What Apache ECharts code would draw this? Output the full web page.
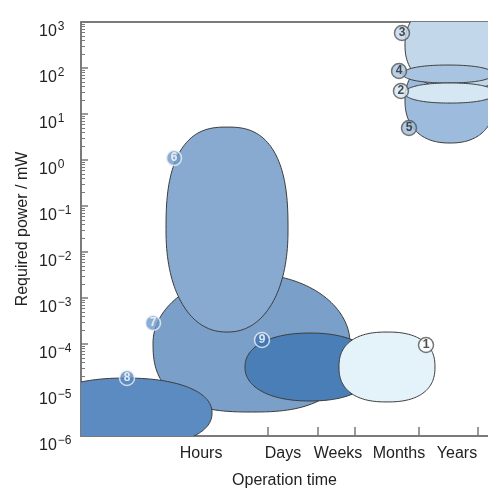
<!DOCTYPE html>
<html><head><meta charset="utf-8">
<script src="https://cdn.jsdelivr.net/npm/echarts@6/dist/echarts.min.js"></script>
<style>html,body{margin:0;padding:0;background:#fff}#c{width:488px;height:489px}</style>
</head><body><div id="c"></div>
<script>
// ---- data (time in hours, power in mW) ----
const shapeIds   = ['1', '2', '3', '4', '5', '6', '7', '8', '9'];
const timeMin    = [392, 5150, 5150, 4760, 5150, 0.458, 0.276, 0.00322, 10];
const timeMax    = [16600, 172600, 377000, 159600, 172600, 53.6, 602, 2.76, 1596];
const powerMin   = [5.5e-6, 17.3, 33.3, 47.2, 2.34, 1.82e-4, 3.32e-6, 5.5e-7, 5.77e-6];
const powerMax   = [1.82e-4, 47.2, 3006, 116, 173, 5.2, 3.32e-3, 1.82e-5, 1.73e-4];
const markerTime  = [11700, 4400, 4580, 4080, 6020, 0.626, 0.276, 0.1, 19.4];
const markerPower = [9.5e-5, 31.6, 577, 86, 4.97, 1.10, 2.86e-4, 1.82e-5, 1.22e-4];

const timeTickHours  = [1, 24, 168, 730, 8760, 87600];
const timeLabels     = ['Hours', 'Days', 'Weeks', 'Months', 'Years'];
const timeLabelHours = [1.8, 44, 377, 4070, 39200];
const powerDecades   = [-6, -5, -4, -3, -2, -1, 0, 1, 2, 3];
const axisTimeRange  = [0.0166, 131500];
const axisPowerRange = [1e-6, 1e3];

// ---- styles ----
const shapeStyle = {
  '1': {fill: '#e4f2f9', nTop: 2.4, nBot: 2.4, mFill: '#ffffff', mText: '#222', mBorder: '#555'},
  '2': {fill: '#d5e7f3', nTop: 2.2, nBot: 2.2, mFill: '#d5e7f3', mText: '#222', mBorder: '#555'},
  '3': {fill: '#c3d7eb', nTop: 2.3, nBot: 2.3, mFill: '#c3d7eb', mText: '#222', mBorder: '#555'},
  '4': {fill: '#a9c4e0', nTop: 2.2, nBot: 2.2, mFill: '#a9c4e0', mText: '#222', mBorder: '#555'},
  '5': {fill: '#9dbbdc', nTop: 2.2, nBot: 2.3, mFill: '#9dbbdc', mText: '#222', mBorder: '#555'},
  '6': {fill: '#88aad0', nTop: 2.6, nBot: 2.2, mFill: '#6f98c8', mText: '#fff', mBorder: '#eef3f8'},
  '7': {fill: '#7a9fc9', nTop: 2.0, nBot: 2.6, mFill: '#6f98c8', mText: '#fff', mBorder: '#eef3f8'},
  '8': {fill: '#5b8bc0', nTop: 2.2, nBot: 2.2, mFill: '#5b8bc0', mText: '#fff', mBorder: '#eef3f8'},
  '9': {fill: '#4a7eb6', nTop: 2.2, nBot: 2.2, mFill: '#4277b1', mText: '#fff', mBorder: '#eef3f8'}
};
const drawOrder = ['7', '6', '8', '9', '1', '5', '3', '4', '2'];
const FONT = 'Liberation Sans, Arial, sans-serif';
const AX = '#7a7a7a';

const L = Math.log10;
const xMin = L(axisTimeRange[0]), xMax = L(axisTimeRange[1]);
const yMin = L(axisPowerRange[0]), yMax = L(axisPowerRange[1]);

const minorVals = [];
for (let d = yMin; d < yMax; d++) for (let k = 2; k <= 9; k++) minorVals.push(d + L(k));

const shapeData = drawOrder.map(id => {
  const i = shapeIds.indexOf(id);
  return [L(timeMin[i]), L(timeMax[i]), L(powerMin[i]), L(powerMax[i]), i];
});

function renderShape(params, api) {
  const x0 = api.value(0), x1 = api.value(1), y0 = api.value(2), y1 = api.value(3);
  const id = shapeIds[api.value(4)];
  const st = shapeStyle[id];
  const cx = (x0 + x1) / 2, rx = (x1 - x0) / 2, cy = (y0 + y1) / 2, ry = (y1 - y0) / 2;
  const pts = [];
  const N = 160;
  for (let k = 0; k < N; k++) {
    const t = 2 * Math.PI * k / N;
    const c = Math.cos(t), s = Math.sin(t);
    const n = s > 0 ? st.nTop : st.nBot;
    const e = 2 / n;
    const px = cx + rx * Math.sign(c) * Math.pow(Math.abs(c), e);
    const py = cy + ry * Math.sign(s) * Math.pow(Math.abs(s), e);
    pts.push(api.coord([px, py]));
  }
  return {type: 'polygon', shape: {points: pts},
          style: {fill: st.fill, stroke: '#3c3c3c', lineWidth: 1}};
}

const markerData = shapeIds.map((id, i) => {
  const st = shapeStyle[id];
  return {
    name: id,
    value: [L(markerTime[i]), L(markerPower[i])],
    itemStyle: {color: st.mFill, borderColor: st.mBorder, borderWidth: 1.5},
    label: {color: st.mText}
  };
});

function nearestIdx(arr, v) {
  let best = 0, bd = Infinity;
  arr.forEach((a, i) => { const d = Math.abs(a - v); if (d < bd) { bd = d; best = i; } });
  return best;
}
const labelPos = timeLabelHours.map(L);

const chart = echarts.init(document.getElementById('c'), null, {renderer: 'canvas'});
chart.setOption({
  animation: false,
  backgroundColor: '#fff',
  grid: {left: 81, right: 0, top: 22, bottom: 53, containLabel: false, outerBoundsMode: 'none'},
  xAxis: [{
    type: 'value', min: xMin, max: xMax, position: 'bottom',
    name: 'Operation time', nameLocation: 'middle', nameGap: 37, nameMoveOverlap: false,
    nameTextStyle: {fontSize: 16, color: '#222', fontFamily: FONT},
    axisLine: {show: true, onZero: false, lineStyle: {color: AX, width: 2}},
    axisTick: {show: true, inside: true, length: 9, lineStyle: {color: AX, width: 1.5},
               customValues: timeTickHours.map(L)},
    axisLabel: {show: true, customValues: labelPos, margin: 10, fontSize: 16, color: '#222', fontFamily: FONT,
                formatter: v => timeLabels[nearestIdx(labelPos, v)]},
    splitLine: {show: false}
  }, {
    type: 'value', min: xMin, max: xMax, position: 'top',
    axisLine: {show: true, onZero: false, lineStyle: {color: AX, width: 2}},
    axisTick: {show: false}, axisLabel: {show: false}, splitLine: {show: false}
  }],
  yAxis: [{
    type: 'value', min: yMin, max: yMax, interval: 1, position: 'left',
    name: 'Required power / mW', nameLocation: 'middle', nameGap: 50, nameMoveOverlap: false,
    nameTextStyle: {fontSize: 16, color: '#222', fontFamily: FONT},
    axisLine: {show: true, onZero: false, lineStyle: {color: AX, width: 2}},
    axisTick: {show: true, inside: true, length: 7, lineStyle: {color: AX, width: 1.5},
               customValues: powerDecades},
    axisLabel: {
      show: true, align: 'left', margin: 42, padding: [16, 0, 0, 0],
      customValues: powerDecades,
      formatter: v => {
        const e = Math.round(v);
        return '{b|10}{s|' + (e < 0 ? '\u2212' + (-e) : e) + '}';
      },
      rich: {
        b: {fontSize: 16, color: '#222', fontFamily: FONT, verticalAlign: 'bottom'},
        s: {fontSize: 12, color: '#222', fontFamily: FONT, verticalAlign: 'bottom', padding: [0, 0, 7, 1]}
      }
    },
    splitLine: {show: false}
  }, {
    type: 'value', min: yMin, max: yMax, position: 'left', offset: 0,
    axisLine: {show: false, onZero: false},
    axisTick: {show: true, inside: true, length: 4, lineStyle: {color: AX, width: 1},
               customValues: minorVals},
    axisLabel: {show: false}, splitLine: {show: false}
  }],
  series: [{
    type: 'custom', xAxisIndex: 0, yAxisIndex: 0, clip: true,
    encode: {x: [0, 1], y: [2, 3]},
    renderItem: renderShape, data: shapeData, z: 2
  }, {
    type: 'scatter', xAxisIndex: 0, yAxisIndex: 0, symbol: 'circle', symbolSize: 15,
    data: markerData, z: 5,
    label: {show: true, position: 'inside', formatter: '{b}', fontSize: 12, fontWeight: 'bold', fontFamily: FONT}
  }]
});
</script>
</body></html>
